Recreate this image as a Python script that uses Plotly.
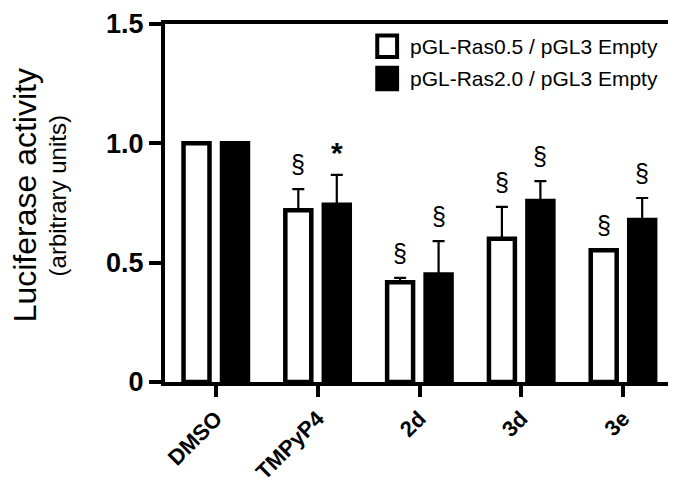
import plotly.graph_objects as go

# treatment groups on the x axis
categories = ["DMSO", "TMPyP4", "2d", "3d", "3e"]

# luciferase ratio, normalised to DMSO
ras05_vals = [1.0, 0.72, 0.418, 0.60, 0.552]
ras05_err = [0.0, 0.088, 0.018, 0.134, 0.0]
ras20_vals = [1.0, 0.743, 0.45, 0.758, 0.679]
ras20_err = [0.0, 0.125, 0.14, 0.084, 0.092]

# significance marks above each bar
ras05_sig = ["", "§", "§", "§", "§"]
ras20_sig = ["", "*", "§", "§", "§"]

series_names = ["pGL-Ras0.5 / pGL3 Empty", "pGL-Ras2.0 / pGL3 Empty"]

y_tickvals = [0, 0.5, 1.0, 1.5]
y_ticktext = ["0", "0.5", "1.0", "1.5"]

BAR_W = 0.255
OFFSETS = [-0.318, 0.06]
FONT = "Liberation Sans, Arial, sans-serif"

xs = list(range(len(categories)))

fig = go.Figure()
for name, vals, err, fill, off in [
    (series_names[0], ras05_vals, ras05_err, "white", OFFSETS[0]),
    (series_names[1], ras20_vals, ras20_err, "black", OFFSETS[1]),
]:
    fig.add_trace(go.Bar(
        x=xs, y=vals, name=name, width=BAR_W, offset=off,
        marker=dict(color=fill, line=dict(color="black", width=4.5)),
        error_y=dict(type="data", symmetric=False, array=err,
                     arrayminus=[0] * len(err), color="black",
                     thickness=2.2, width=6),
        showlegend=False,
    ))

# significance symbols
for vals, err, sig, off in [(ras05_vals, ras05_err, ras05_sig, OFFSETS[0]),
                            (ras20_vals, ras20_err, ras20_sig, OFFSETS[1])]:
    for i, s in enumerate(sig):
        if not s:
            continue
        star = s == "*"
        fig.add_annotation(
            x=i + off + BAR_W / 2, y=vals[i] + err[i], text=s,
            showarrow=False, yanchor="bottom", xanchor="center",
            yshift=4 if star else 9,
            font=dict(family=FONT, size=30 if star else 25, color="black",
                      weight="bold" if star else "normal"),
        )

# legend drawn by hand so the swatches can be large
for k, (name, fill) in enumerate(zip(series_names, ["white", "black"])):
    yc = 0.938 - k * 0.09
    fig.add_shape(type="rect", xref="paper", yref="paper",
                  x0=0.417, x1=0.456, y0=yc - 0.03, y1=yc + 0.03,
                  line=dict(color="black", width=4), fillcolor=fill)
    fig.add_annotation(xref="paper", yref="paper", x=0.477, y=yc,
                       text=name, showarrow=False, xanchor="left",
                       yanchor="middle",
                       font=dict(family=FONT, size=21, color="black"))

# y axis title as two rotated lines
fig.add_annotation(xref="paper", yref="paper", x=-0.276, y=0.52,
                   text="Luciferase activity", textangle=-90, showarrow=False,
                   xanchor="center", yanchor="middle",
                   font=dict(family=FONT, size=32, color="black"))
fig.add_annotation(xref="paper", yref="paper", x=-0.211, y=0.52,
                   text="(arbitrary units)", textangle=-90, showarrow=False,
                   xanchor="center", yanchor="middle",
                   font=dict(family=FONT, size=24, color="black"))

fig.update_xaxes(
    range=[-0.5, 4.5], tickvals=xs, ticktext=categories, tickangle=-45,
    ticks="outside", ticklen=11, tickwidth=3.5, tickcolor="black",
    showline=True, linewidth=4, linecolor="black", mirror=True,
    showgrid=False, zeroline=False, automargin=False,
    tickfont=dict(family=FONT, size=22, color="black", weight="bold"),
)
fig.update_yaxes(
    range=[0, 1.5], tickvals=y_tickvals, ticktext=y_ticktext,
    ticks="outside", ticklen=12, tickwidth=3.5, tickcolor="black",
    showline=True, linewidth=4, linecolor="black", mirror=True,
    showgrid=False, zeroline=False, automargin=False,
    tickfont=dict(family=FONT, size=27, color="black", weight="bold"),
)
fig.update_layout(
    width=676, height=490,
    margin=dict(l=157, r=10, t=16, b=116, autoexpand=False),
    plot_bgcolor="white", paper_bgcolor="white",
    barmode="overlay",
)

fig.write_html("out.html")
